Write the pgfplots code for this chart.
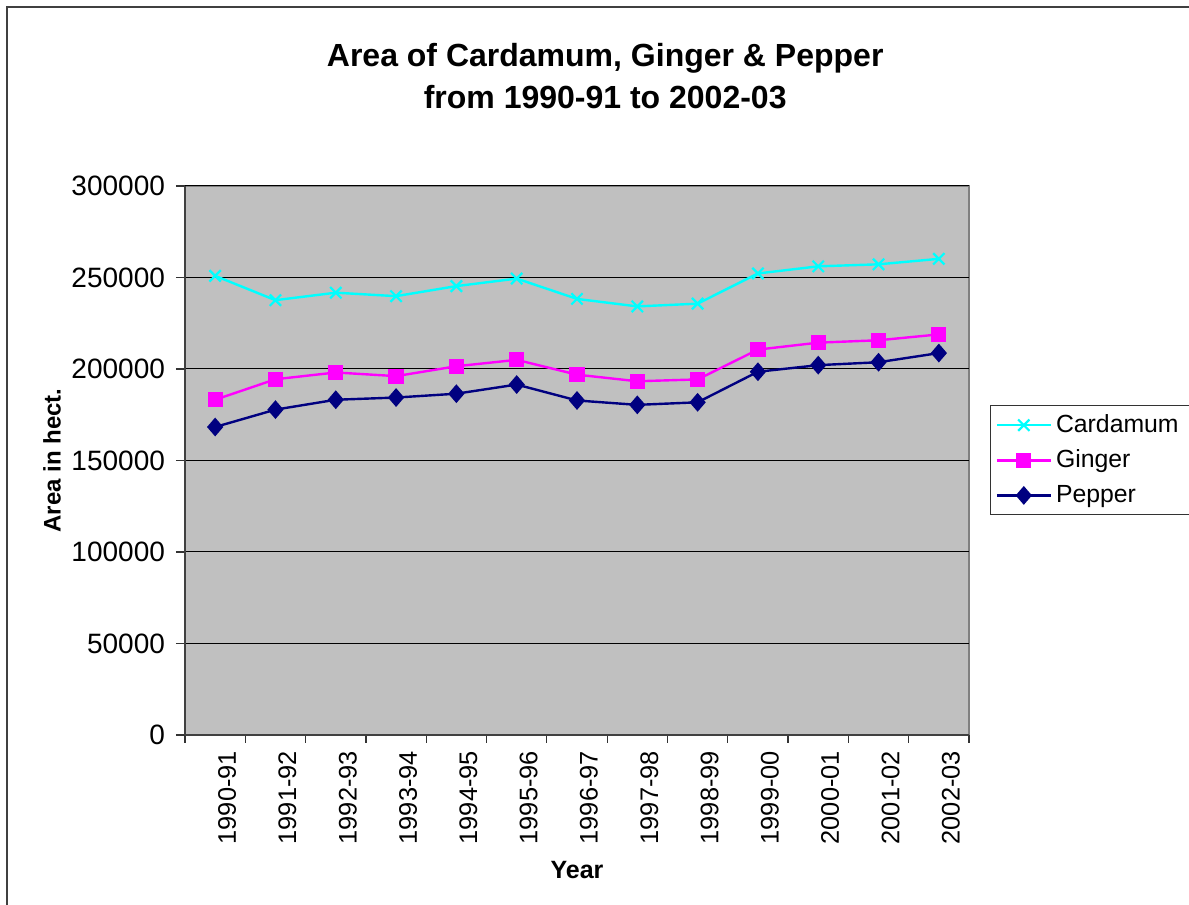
\documentclass[border=0pt]{standalone}
\usepackage{pgfplots}
\pgfplotsset{compat=1.18}
\usepackage{fontspec}
\setmainfont{Liberation Sans}
\definecolor{plotgray}{RGB}{192,192,192}
\definecolor{bordergray}{RGB}{128,128,128}
\definecolor{cardcol}{RGB}{0,255,255}
\definecolor{gingcol}{RGB}{255,0,255}
\definecolor{pepcol}{RGB}{0,0,128}
\begin{document}
\begin{tikzpicture}
\useasboundingbox (0pt,0pt) rectangle (594.5pt,452.5pt);
\draw[line width=1pt, black!75] (3.5pt,-20pt) -- (3.5pt,449pt) -- (620pt,449pt);
\begin{axis}[
  at={(92.5pt,85pt)}, anchor=south west,
  scale only axis,
  width=392pt, height=274.5pt,
  xmin=-0.5, xmax=12.5,
  ymin=0, ymax=300000,
  ytick={0,50000,...,300000},
  scaled y ticks=false,
  /pgf/number format/.cd, fixed, 1000 sep={}, assume math mode=true, /pgfplots/.cd,
  xtick={0,...,12},
  xticklabels={1990-91,1991-92,1992-93,1993-94,1994-95,1995-96,1996-97,1997-98,1998-99,1999-00,2000-01,2001-02,2002-03},
  minor xtick={-0.5,0.5,...,12.5},
  major x tick style={draw=none},
  minor tick length=4pt,
  major tick length=4.5pt,
  tick align=outside,
  tick style={black!80, line width=0.6pt},
  axis x line*=bottom, axis y line*=left,
  axis line style={black!75, line width=0.9pt},
  axis background/.style={fill=plotgray, draw=bordergray, line width=1pt},
  ymajorgrids, grid style={black, line width=0.5pt},
  yticklabel style={font=\fontsize{14}{16}\selectfont, xshift=-2pt},
  xticklabel style={font=\fontsize{12.7}{14}\selectfont, rotate=90, anchor=east, yshift=-6pt},
  xlabel={Year}, ylabel={Area in hect.},
  xlabel style={font=\bfseries\fontsize{12.5}{14}\selectfont, at={(axis description cs:0.5,-0.246)}, anchor=center},
  ylabel style={font=\bfseries\fontsize{12}{14}\selectfont, at={(axis description cs:-0.1696,0.5)}, anchor=center},
  title={Area of Cardamum, Ginger \& Pepper\\from 1990-91 to 2002-03},
  title style={font=\bfseries\fontsize{16}{21}\selectfont, align=center, at={(axis description cs:0.536,1.178)}, anchor=center},
  legend style={at={(axis description cs:1.0268,0.601)}, anchor=north west, draw=black!80, line width=0.6pt,
    font=\fontsize{12.4}{14}\selectfont, row sep=3.2pt, inner sep=2.5pt, legend cell align=left},
  legend image code/.code={\draw[mark repeat=2, mark phase=2] plot coordinates {(0pt,0pt) (13.5pt,0pt) (27pt,0pt)};},
  every axis plot/.append style={line width=1.2pt},
]
\addplot[cardcol, mark=x, mark size=4pt, mark options={line width=1.1pt}] coordinates {
(0,250900) (1,237600) (2,241700) (3,239800) (4,245300) (5,249400) (6,238300)
(7,234200) (8,235700) (9,252200) (10,256100) (11,257200) (12,260200)};
\addlegendentry{Cardamum\hspace*{15pt}}
\addplot[gingcol, mark=square*, mark size=3.2pt] coordinates {
(0,183200) (1,194400) (2,198100) (3,196100) (4,201500) (5,205000) (6,196900)
(7,193300) (8,194300) (9,210600) (10,214400) (11,215700) (12,218900)};
\addlegendentry{Ginger}
\addplot[pepcol, mark=diamond*, mark size=3.8pt, mark options={xscale=1.15}] coordinates {
(0,168300) (1,177800) (2,183200) (3,184400) (4,186500) (5,191500) (6,182800)
(7,180400) (8,181800) (9,198500) (10,202100) (11,203700) (12,208700)};
\addlegendentry{Pepper}
\end{axis}
\end{tikzpicture}
\end{document}
